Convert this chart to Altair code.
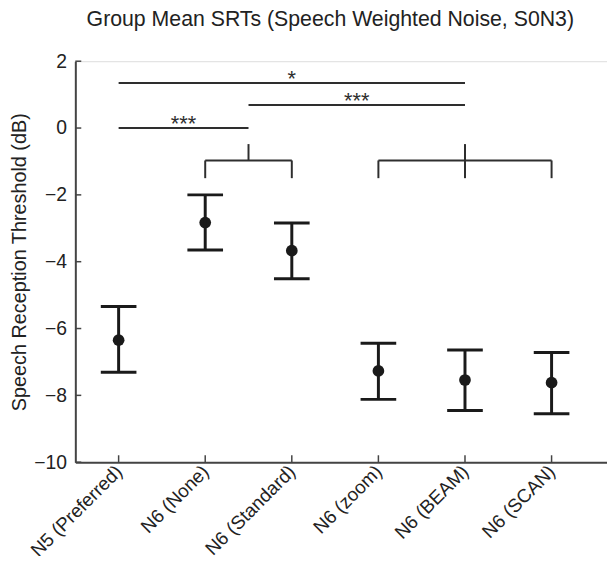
import json
import altair as alt
import pandas as pd

# ---- data ----
categories = ["N5 (Preferred)", "N6 (None)", "N6 (Standard)", "N6 (zoom)", "N6 (BEAM)", "N6 (SCAN)"]
means = [-6.35, -2.83, -3.67, -7.27, -7.54, -7.62]
upper = [-5.34, -2.00, -2.84, -6.44, -6.64, -6.72]
lower = [-7.31, -3.65, -4.51, -8.12, -8.45, -8.55]

sig_from = [1, 2.5, 1]
sig_to = [5, 5, 2.5]
sig_level = [1.35, 0.69, 0.0]
sig_text = ["*", "***", "***"]

bracket_members = [[2, 3], [4, 5, 6]]
bracket_stem = [2.5, 5]
bracket_top = [-0.48, -0.48]
bracket_mid = [-0.97, -0.97]
bracket_bottom = [-1.5, -1.5]

y_ticks = [-10, -8, -6, -4, -2, 0, 2]
x_ticks = [1, 2, 3, 4, 5, 6]

# ---- tables ----
pts = pd.DataFrame({"pos": list(range(1, len(categories) + 1)), "cat": categories,
                    "mean": means, "hi": upper, "lo": lower})
sig = pd.DataFrame({"x1": sig_from, "x2": sig_to, "y": sig_level, "label": sig_text})
sig["xm"] = (sig["x1"] + sig["x2"]) / 2

segs = []
for mem, stem, t, m, b in zip(bracket_members, bracket_stem, bracket_top, bracket_mid, bracket_bottom):
    segs.append({"x1": min(mem), "x2": max(mem), "y1": m, "y2": m})
    for c in mem:
        segs.append({"x1": c, "x2": c, "y1": m, "y2": b})
    segs.append({"x1": stem, "x2": stem, "y1": t, "y2": m})
segs = pd.DataFrame(segs)

W, H = 537, 405
FONT = "Liberation Sans"
INK = "#1a1a1a"
LINE = "#2e2e2e"

xscale = alt.Scale(domain=[0.5, 6.64], nice=False, zero=False)
yscale = alt.Scale(domain=[-10, 2], nice=False, zero=False)

label_expr = json.dumps(categories) + "[datum.value - 1]"

x_enc = alt.X("pos:Q", scale=xscale,
              axis=alt.Axis(values=x_ticks, labelExpr=label_expr, title=None, ticks=False,
                            grid=False, labelAngle=-45, labelAlign="right", labelBaseline="middle",
                            labelFontSize=19, labelFont=FONT, labelColor="#222", labelPadding=6,
                            domainColor="#444", domainWidth=2, labelOverlap=False))
y_enc = alt.Y("mean:Q", scale=yscale,
              axis=alt.Axis(values=y_ticks, title="Speech Reception Threshold (dB)", ticks=False,
                            grid=False, labelFontSize=19.5, labelFont=FONT, labelColor="#222",
                            labelPadding=9, titleFontSize=20, titleFont=FONT, titleFontWeight="normal",
                            titleColor="#222", titlePadding=4, domainColor="#444", domainWidth=2))

base = alt.Chart(pts)
points = base.mark_circle(size=140, color=INK, opacity=1).encode(x=x_enc, y=y_enc)
stems = base.mark_rule(color=INK, strokeWidth=3).encode(
    x=alt.X("pos:Q", scale=xscale), y=alt.Y("lo:Q", scale=yscale), y2="hi:Q")
cap_hi = base.mark_tick(color=INK, orient="horizontal", size=36, thickness=3, opacity=1).encode(
    x=alt.X("pos:Q", scale=xscale), y=alt.Y("hi:Q", scale=yscale))
cap_lo = base.mark_tick(color=INK, orient="horizontal", size=36, thickness=3, opacity=1).encode(
    x=alt.X("pos:Q", scale=xscale), y=alt.Y("lo:Q", scale=yscale))

sig_lines = alt.Chart(sig).mark_rule(color=LINE, strokeWidth=2).encode(
    x=alt.X("x1:Q", scale=xscale), x2="x2:Q", y=alt.Y("y:Q", scale=yscale))
sig_labels = alt.Chart(sig).mark_text(font=FONT, fontSize=22, color=LINE, baseline="alphabetic",
                                      dy=3, align="center").encode(
    x=alt.X("xm:Q", scale=xscale), y=alt.Y("y:Q", scale=yscale), text="label:N")

brackets = alt.Chart(segs).mark_rule(color=LINE, strokeWidth=2).encode(
    x=alt.X("x1:Q", scale=xscale), x2="x2:Q", y=alt.Y("y1:Q", scale=yscale), y2="y2:Q")

ytick_df = pd.DataFrame({"v": y_ticks})
xtick_df = pd.DataFrame({"v": x_ticks})
yticks = alt.Chart(ytick_df).mark_rule(color="#444", strokeWidth=1.5).encode(
    y=alt.Y("v:Q", scale=yscale), x=alt.value(0), x2=alt.value(6))
xticks = alt.Chart(xtick_df).mark_rule(color="#444", strokeWidth=1.5).encode(
    x=alt.X("v:Q", scale=xscale), y=alt.value(H), y2=alt.value(H - 7))

chart = alt.layer(points, stems, cap_hi, cap_lo, sig_lines, sig_labels, brackets, yticks, xticks).properties(
    width=W, height=H,
    title=alt.TitleParams("Group Mean SRTs (Speech Weighted Noise, S0N3)", fontSize=21.5, font=FONT,
                          fontWeight="normal", color="#222", offset=21, dx=-11, anchor="middle"),
    autosize=alt.AutoSizeParams(type="none"),
    padding={"left": 68, "top": 51, "right": 0, "bottom": 92},
).configure_view(stroke=None).configure(background="white")

chart.save("out.html", embed_options={"renderer": "svg", "actions": False})
